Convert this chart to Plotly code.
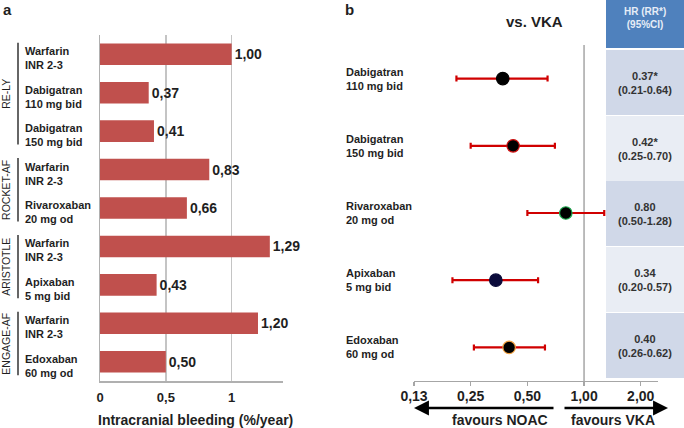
import math
import plotly.graph_objects as go

W, H = 684, 428
FONT = "Liberation Sans, Arial, sans-serif"
TXT = "#1f1f1f"

# ---------------- data: panel a ----------------
bar_labels = ["Warfarin<br>INR 2-3", "Dabigatran<br>110 mg bid", "Dabigatran<br>150 mg bid",
              "Warfarin<br>INR 2-3", "Rivaroxaban<br>20 mg od",
              "Warfarin<br>INR 2-3", "Apixaban<br>5 mg bid",
              "Warfarin<br>INR 2-3", "Edoxaban<br>60 mg od"]
bleeding = [1.00, 0.37, 0.41, 0.83, 0.66, 1.29, 0.43, 1.20, 0.50]
trials = ["RE-LY", "ROCKET-AF", "ARISTOTLE", "ENGAGE-AF"]
trial_rows = [(0, 2), (3, 4), (5, 6), (7, 8)]
a_ticks = [0, 0.5, 1]
a_ticklabels = ["0", "0,5", "1"]

# ---------------- data: panel b ----------------
drugs = ["Dabigatran<br>110 mg bid", "Dabigatran<br>150 mg bid", "Rivaroxaban<br>20 mg od",
         "Apixaban<br>5 mg bid", "Edoxaban<br>60 mg od"]
hr = [0.37, 0.42, 0.80, 0.34, 0.40]
ci_lo = [0.21, 0.25, 0.50, 0.20, 0.26]
ci_hi = [0.64, 0.70, 1.28, 0.57, 0.62]
hr_text = ["0.37*", "0.42*", "0.80", "0.34", "0.40"]
ci_text = ["(0.21-0.64)", "(0.25-0.70)", "(0.50-1.28)", "(0.20-0.57)", "(0.26-0.62)"]
marker_fill = ["#000000", "#000000", "#000000", "#0b0b3a", "#000000"]
marker_edge = ["#000000", "#d01010", "#1faa50", "#0b0b3a", "#f0a040"]
b_ticks = [0.125, 0.25, 0.5, 1, 2]
b_ticklabels = ["0,13", "0,25", "0,50", "1,00", "2,00"]


def px(x):
    return x / W


def py(y):
    return 1 - y / H


fig = go.Figure()

# bars
ya = list(range(len(bleeding)))
fig.add_trace(go.Bar(
    x=bleeding, y=ya, orientation="h", xaxis="x", yaxis="y",
    marker=dict(color="#c0504d", line=dict(width=0)), width=0.56,
    text=[f"{v:.2f}".replace(".", ",") for v in bleeding],
    textposition="outside", cliponaxis=False,
    textfont=dict(family=FONT, size=14, color=TXT, weight="bold"),
    hoverinfo="skip", showlegend=False,
))

# reference line at HR = 1
fig.add_trace(go.Scatter(
    x=[1, 1], y=[-0.5, len(hr) - 0.5], mode="lines", xaxis="x2", yaxis="y2",
    line=dict(color="#a6a6a6", width=1.5), hoverinfo="skip", showlegend=False,
))

# forest points
yb = list(range(len(hr)))
fig.add_trace(go.Scatter(
    x=hr, y=yb, mode="markers", xaxis="x2", yaxis="y2",
    error_x=dict(type="data", symmetric=False,
                 array=[h - v for h, v in zip(ci_hi, hr)],
                 arrayminus=[v - l for v, l in zip(hr, ci_lo)],
                 color="#d00000", thickness=2.2, width=3),
    marker=dict(size=12.5, color=marker_fill, line=dict(color=marker_edge, width=1.2)),
    hoverinfo="skip", showlegend=False, cliponaxis=False,
))

fig.update_layout(
    width=W, height=H, autosize=False,
    margin=dict(l=0, r=0, t=0, b=0, pad=0),
    paper_bgcolor="white", plot_bgcolor="white",
    font=dict(family=FONT, color=TXT),
    xaxis=dict(domain=[px(100), px(283)], range=[0, 1.39], anchor="y", automargin=False,
               tickvals=a_ticks, ticktext=a_ticklabels, ticks="",
               tickfont=dict(size=13, weight="bold", color=TXT),
               showgrid=True, gridcolor="#c4c4c4", gridwidth=1.5,
               showline=True, linecolor="#b0b0b0", linewidth=1.5,
               zeroline=False, ticklabelstandoff=4, fixedrange=True),
    yaxis=dict(domain=[py(381), py(35)], range=[len(bleeding) - 0.5, -0.5], anchor="x",
               automargin=False,
               showticklabels=False, ticks="", showgrid=False, zeroline=False,
               showline=True, linecolor="#b0b0b0", linewidth=1.5, fixedrange=True),
    xaxis2=dict(domain=[px(414), px(658)], type="log", automargin=False,
                range=[math.log10(0.125), math.log10(2.47)], anchor="y2",
                tickvals=b_ticks, ticktext=b_ticklabels, ticks="outside", ticklen=4,
                tickcolor="#a6a6a6", tickwidth=1.2,
                tickfont=dict(size=14, weight="bold", color=TXT),
                showgrid=False, zeroline=False,
                showline=True, linecolor="#a6a6a6", linewidth=1.2,
                ticklabelstandoff=-2, fixedrange=True),
    yaxis2=dict(domain=[py(381), py(45)], range=[len(hr) - 0.5, -0.5], anchor="x2",
                automargin=False,
                showticklabels=False, ticks="", showgrid=False, zeroline=False,
                showline=False, fixedrange=True),
)

ann = []
shapes = []

# panel letters
ann.append(dict(text="<b>a</b>", x=px(1), y=py(10), xref="paper", yref="paper",
                xanchor="left", yanchor="middle", showarrow=False, font=dict(size=15, color=TXT)))
ann.append(dict(text="<b>b</b>", x=px(343), y=py(9), xref="paper", yref="paper",
                xanchor="left", yanchor="middle", showarrow=False, font=dict(size=15, color=TXT)))

# panel a row labels
for i, lab in enumerate(bar_labels):
    ann.append(dict(text=f"<b>{lab}</b>", x=px(23), y=i, xref="paper", yref="y",
                    xanchor="left", yanchor="middle", align="left", yshift=-4,
                    showarrow=False, font=dict(size=11, color=TXT)))

# trial brackets and labels
for name, (r0, r1) in zip(trials, trial_rows):
    shapes.append(dict(type="line", xref="paper", yref="y", x0=px(18), x1=px(18),
                       y0=r0 - 0.3, y1=r1 + 0.35, line=dict(color="#333333", width=1.5)))
    ann.append(dict(text=name, x=px(6), y=(r0 + r1) / 2 + 0.03, xref="paper", yref="y",
                    textangle=-90, xanchor="center", yanchor="middle", showarrow=False,
                    font=dict(size=10.5, color=TXT)))

# panel a axis title
ann.append(dict(text="<b>Intracranial bleeding (%/year)</b>", x=px(195), y=py(420),
                xref="paper", yref="paper", xanchor="center", yanchor="middle",
                showarrow=False, font=dict(size=14, color=TXT)))

# panel b title
ann.append(dict(text="<b>vs. VKA</b>", x=px(534), y=py(21), xref="paper", yref="paper",
                xanchor="center", yanchor="middle", showarrow=False,
                font=dict(size=15, color=TXT)))

# panel b row labels
for i, lab in enumerate(drugs):
    ann.append(dict(text=f"<b>{lab}</b>", x=px(344), y=i, xref="paper", yref="y2",
                    xanchor="left", yanchor="middle", align="left",
                    showarrow=False, font=dict(size=11, color=TXT)))

# table header
shapes.append(dict(type="rect", xref="paper", yref="paper", x0=px(606), x1=px(684),
                   y0=py(48), y1=py(0), fillcolor="#4f81bd", line=dict(width=0), layer="above"))
ann.append(dict(text="HR (RR*)<br>(95%CI)", x=px(645), y=py(18), xref="paper", yref="paper",
                xanchor="center", yanchor="middle", showarrow=False,
                font=dict(size=10, color="#e6edf7", weight="bold")))

# table rows
row_tops = [50, 116, 181, 247, 313]
row_h = 65
fills = ["#d0d8e8", "#e9edf4"]
for i, (t1, t2) in enumerate(zip(hr_text, ci_text)):
    top = row_tops[i]
    shapes.append(dict(type="rect", xref="paper", yref="paper", x0=px(606), x1=px(684),
                       y0=py(top + row_h), y1=py(top), fillcolor=fills[i % 2],
                       line=dict(width=0), layer="above"))
    ann.append(dict(text=f"<b>{t1}<br>{t2}</b>", x=px(645), y=py(top + row_h / 2),
                    xref="paper", yref="paper", xanchor="center", yanchor="middle",
                    showarrow=False, font=dict(size=11, color="#333333")))

# arrows
ann.append(dict(text="", x=px(414), y=py(408), xref="paper", yref="paper",
                ax=141, ay=0, axref="pixel", ayref="pixel",
                showarrow=True, arrowhead=2, arrowsize=1.15, arrowwidth=2.6, arrowcolor="#000000"))
ann.append(dict(text="", x=px(668), y=py(408), xref="paper", yref="paper",
                ax=-105, ay=0, axref="pixel", ayref="pixel",
                showarrow=True, arrowhead=2, arrowsize=1.15, arrowwidth=2.6, arrowcolor="#000000"))
ann.append(dict(text="<b>favours NOAC</b>", x=px(500), y=py(420), xref="paper", yref="paper",
                xanchor="center", yanchor="middle", showarrow=False, font=dict(size=14, color=TXT)))
ann.append(dict(text="<b>favours VKA</b>", x=px(613), y=py(420), xref="paper", yref="paper",
                xanchor="center", yanchor="middle", showarrow=False, font=dict(size=14, color=TXT)))

fig.update_layout(annotations=ann, shapes=shapes)

fig.write_html("out.html", config={"displayModeBar": False, "staticPlot": True},
               post_script="document.body.style.margin='0';document.body.style.overflow='hidden';")
